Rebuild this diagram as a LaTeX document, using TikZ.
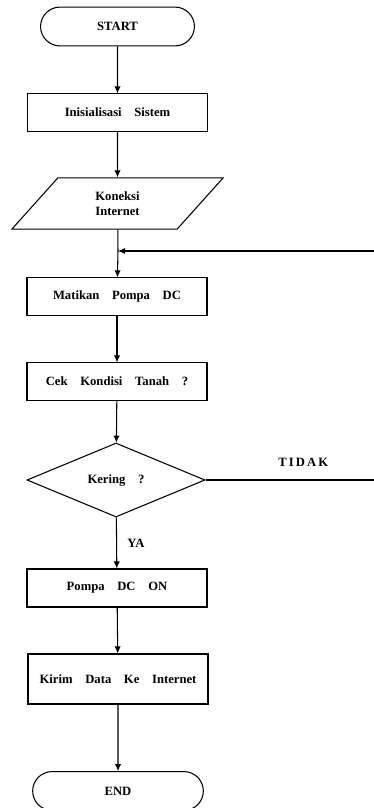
\documentclass[tikz,border=0pt]{standalone}
\usepackage{fontspec}
\setmainfont{Liberation Serif}
\usetikzlibrary{shapes.geometric,shapes.misc,arrows.meta}

\begin{document}
\begin{tikzpicture}[x=0.025cm,y=-0.025cm,line width=0.75pt,
    >={Latex[length=5pt,width=4.5pt]},
    every node/.style={font=\fontsize{9}{10.5}\selectfont\bfseries},
    terminal/.style={draw,rounded rectangle,minimum height=0.97cm},
    proses/.style={draw,rectangle,minimum width=4.5cm,minimum height=0.93cm},
    inout/.style={draw,trapezium,trapezium stretches=true,trapezium left angle=58,
        trapezium right angle=122,minimum width=5.28cm,minimum height=1.28cm,align=center},
    keputusan/.style={draw,diamond,aspect=2.4,inner sep=0pt,minimum width=4.45cm,minimum height=1.85cm}]
    \useasboundingbox (0,0) rectangle (374,808);

    \node[terminal,minimum width=4.08cm] (start) at (117.5,26.5) {START};
    \node[proses] (init) at (117.5,112.5) {Inisialisasi\quad Sistem};
    \node[inout] (inet) at (117.5,203.5) {Koneksi\\Internet};
    \coordinate (join) at (118,251);
    \node[proses] (matikan) at (117,296.5) {Matikan\quad Pompa\quad DC};
    \node[proses] (cek) at (117,381.5) {Cek\quad Kondisi\quad Tanah\quad ?};
    \node[keputusan] (kering) at (116,480) {Kering\quad ?};
    \node[proses,minimum height=0.95cm] (pompa) at (117,588) {Pompa\quad DC\quad ON};
    \node[proses,minimum height=1.25cm] (kirim) at (118,679) {Kirim\quad Data\quad Ke\quad Internet};
    \node[terminal,minimum width=4.5cm] (end) at (118,791) {END};
    \coordinate (tidak) at (374,480);
    \coordinate (balik) at (374,251);

    \foreach \a/\b in {start/init,init/inet,matikan/cek,cek/kering,pompa/kirim,kirim/end}
        \draw[->] (\a) -- (\b);
    \draw (inet) -- (join);
    \draw[->] (join) -- (matikan);
    \draw[->] (balik) -- (join);
    \draw[->] (kering) -- node[right=4pt] {YA} (pompa);
    \draw (kering) -- node[above=6pt,pos=0.58] {T\,I\,D\,A\,K} (tidak);

\end{tikzpicture}
\end{document}
